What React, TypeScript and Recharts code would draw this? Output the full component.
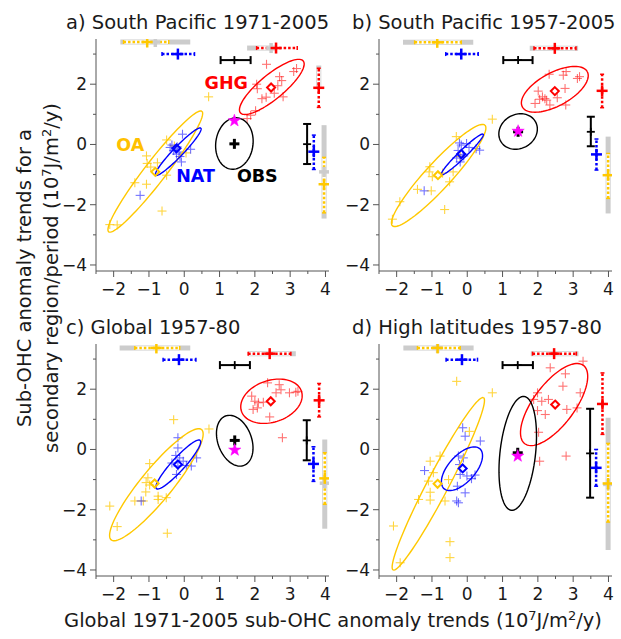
import React from 'react'
import { ComposedChart, Scatter, XAxis, YAxis } from 'recharts'

type Pt = [number, number]
// cx, cy, major half-axis (ux, uy) in data units, minor/major ratio in pixels
type Ell = [number, number, number, number, number]
// position, low, high, centre (null = no centre mark)
type Bar = [number, number, number, number | null]

const X_DOMAIN: [number, number] = [-2.5, 4.1]
const Y_DOMAIN: [number, number] = [-4.2, 3.5]
const X_TICKS = [-2.5, -2, -1.5, -1, -0.5, 0, 0.5, 1, 1.5, 2, 2.5, 3, 3.5, 4]
const Y_TICKS = [-4, -3, -2, -1, 0, 1, 2, 3]

const TITLES = ['a) South Pacific 1971-2005', 'b) South Pacific 1957-2005', 'c) Global 1957-80', 'd) High latitudes 1957-80']
const LABEL_TEXT = ['OA', 'NAT', 'GHG', 'OBS']
const LABEL_POS_A: Pt[] = [[-1.53, -0.02], [0.32, -1.04], [1.19, 2.03], [2.07, -1.04]]

// ---- a) South Pacific 1971-2005
const OA_A: Pt[] = [[-2.11, -2.66], [-1.9, -2.67], [-1.4, -1.27], [-1.07, -1.32], [-1.07, -0.38], [-1.05, -0.63], [-0.76, -0.61], [-0.5, 0.15], [-0.5, -1.02], [-0.63, -2.21], [0.69, 1.58], [-0.95, -0.75], [0.05, -0.28], [-0.28, -0.05]]
const NAT_A: Pt[] = [[-0.05, 0.34], [-0.35, -0.02], [-0.25, -0.15], [-0.2, -0.08], [-0.3, -0.2], [-0.15, -0.25], [-0.12, -0.4], [-0.08, -0.58], [0.18, -0.16], [-1.25, -1.69], [-0.22, -0.32], [-0.4, -0.1]]
const GHG_A: Pt[] = [[2.33, 2.66], [2.05, 2.0], [2.07, 1.85], [2.2, 1.52], [2.32, 1.57], [2.55, 1.7], [2.7, 2.25], [2.76, 2.12], [2.8, 1.58], [3.1, 2.42], [3.18, 2.52], [2.65, 1.95], [2.02, 1.12], [1.88, 0.97], [1.78, 0.86]]
const ELL_A: Ell[] = [[-0.82, -0.9, 1.32, 2.0, 0.14], [-0.17, -0.24, 0.64, 0.78, 0.15], [2.48, 1.91, 0.89, 0.86, 0.3], [1.42, 0.03, 0.1, 0.85, 0.72]]
const DIAM_A: Pt[] = [[-0.82, -0.91], [-0.22, -0.13], [2.46, 1.89]]
const OBS_A: Pt = [1.42, 0.02]
const STAR_A: Pt = [1.42, 0.79]
const HBAR_A: Bar[] = [[3.4, -1.72, -0.44, -1.05], [3.0, -0.63, 0.29, -0.18], [2.8, 1.03, 1.88, 1.42], [3.2, 2.05, 3.2, 2.6]]
const VBAR_A: Bar[] = [[3.96, -2.27, -0.43, -1.32], [3.67, -0.83, 0.31, -0.24], [3.48, -0.65, 0.68, 0.01], [3.81, 1.23, 2.53, 1.88]]
const GREYH_A: Bar[] = [[3.4, -1.81, 0.17, -0.82], [3.2, 1.78, 2.6, 2.46]]
const GREYV_A: Bar[] = [[3.96, -2.46, 0.64, -0.91], [3.81, 1.9, 2.62, null]]

// ---- b) South Pacific 1957-2005
const OA_B: Pt[] = [[-2.12, -2.48], [-1.91, -1.9], [-1.41, -1.49], [-1.02, -1.54], [-1.06, -0.74], [-1.08, -0.91], [-0.99, -1.07], [-0.5, -1.24], [-0.4, -0.91], [-0.31, 0.26], [-0.64, -2.16], [0.71, 0.84], [-0.7, -0.95], [-0.2, -0.4]]
const NAT_B: Pt[] = [[-1.22, -1.54], [-0.17, -0.02], [-0.02, 0.03], [-0.26, -0.2], [-0.12, -0.33], [-0.2, -0.58], [0.05, -0.1], [0.35, -0.19], [0.25, -0.14], [-0.1, -0.38], [-0.3, -0.45], [-0.22, 0.05]]
const GHG_B: Pt[] = [[2.32, 2.33], [2.72, 2.3], [2.8, 2.42], [3.12, 2.19], [3.18, 2.25], [2.01, 1.77], [2.13, 1.58], [2.05, 1.5], [2.25, 1.47], [1.92, 1.36], [2.34, 1.31], [2.77, 1.86], [2.79, 1.31], [2.55, 1.55], [2.2, 1.52]]
const ELL_B: Ell[] = [[-0.81, -1.03, 1.31, 1.67, 0.19], [-0.14, -0.33, 0.59, 0.67, 0.13], [2.48, 1.83, 0.92, 0.585, 0.45], [1.44, 0.43, 0.49, 0.33, 0.85]]
const DIAM_B: Pt[] = [[-0.83, -1.02], [-0.17, -0.32], [2.48, 1.77]]
const OBS_B: Pt = [1.44, 0.42]
const STAR_B: Pt = [1.44, 0.44]
const HBAR_B: Bar[] = [[3.39, -1.49, -0.17, -0.85], [3.0, -0.61, 0.31, -0.17], [2.8, 1.02, 1.85, 1.44], [3.19, 1.89, 3.08, 2.48]]
const VBAR_B: Bar[] = [[3.99, -1.79, -0.3, -1.02], [3.66, -0.85, 0.18, -0.33], [3.5, -0.06, 0.92, 0.42], [3.82, 1.22, 2.33, 1.78]]
const GREYH_B: Bar[] = [[3.39, -1.82, 0.17, null], [3.19, 1.77, 3.14, null]]
const GREYV_B: Bar[] = [[3.99, -2.29, 0.26, null]]

// ---- c) Global 1957-80
const OA_C: Pt[] = [[-0.3, 0.99], [0.7, 0.68], [-0.98, -0.47], [-1.03, -0.94], [-1.08, -1.1], [-0.98, -1.18], [-1.09, -1.41], [-1.4, -1.71], [-1.16, -1.71], [-0.74, -1.55], [-0.74, -1.66], [-0.51, -1.6], [-2.11, -1.88], [-1.9, -2.56], [-0.48, -2.78]]
const NAT_C: Pt[] = [[-0.18, 0.39], [-0.18, 0.05], [-0.24, -0.2], [-0.13, -0.28], [-0.03, -0.39], [0.06, -0.53], [0.35, -0.28], [0.2, -0.55], [-0.22, -0.83], [-1.22, -1.71], [-0.18, -0.55], [-0.35, -0.45]]
const GHG_C: Pt[] = [[2.36, 2.21], [2.69, 2.15], [2.74, 1.98], [3.16, 1.9], [3.22, 1.93], [1.91, 1.77], [2.0, 1.6], [2.24, 1.57], [2.07, 1.38], [1.95, 1.33], [2.42, 1.08], [2.78, 0.39], [2.6, 1.88], [2.98, 1.88], [2.1, 1.55]]
const ELL_C: Ell[] = [[-0.79, -1.17, 1.28, 1.83, 0.22], [-0.17, -0.5, 0.62, 0.8, 0.2], [2.47, 1.6, 0.85, 0.33, 0.66], [1.43, 0.29, 0.26, -0.82, 0.64]]
const DIAM_C: Pt[] = [[-0.84, -1.13], [-0.18, -0.5], [2.45, 1.6]]
const OBS_C: Pt = [1.43, 0.3]
const STAR_C: Pt = [1.43, -0.02]
const HBAR_C: Bar[] = [[3.37, -1.4, -0.13, -0.79], [2.98, -0.6, 0.33, -0.15], [2.8, 1.01, 1.86, 1.43], [3.18, 1.81, 3.02, 2.42]]
const VBAR_C: Bar[] = [[3.98, -1.82, -0.11, -0.96], [3.66, -1.06, 0.09, -0.48], [3.47, -0.36, 0.97, 0.3], [3.82, 1.08, 2.19, 1.63]]
const GREYH_C: Bar[] = [[3.37, -1.83, 0.17, null], [3.18, 1.81, 3.16, null]]
const GREYV_C: Bar[] = [[3.98, -2.63, 0.33, -1.12]]

// ---- d) High latitudes 1957-80
const OA_D: Pt[] = [[-0.3, 2.26], [0.71, 1.88], [0.06, 0.6], [-0.77, -0.22], [-1.05, -0.39], [-0.96, -0.77], [-1.1, -1.05], [-0.53, -1.0], [-1.05, -1.42], [-1.05, -1.68], [-1.38, -1.66], [-0.63, -1.71], [-2.09, -2.54], [-1.9, -3.76], [-0.49, -3.06], [-0.49, -3.59]]
const NAT_D: Pt[] = [[-0.13, 0.72], [-0.06, 0.44], [0.37, 0.28], [-1.21, -0.7], [-0.25, -0.22], [-0.11, -0.28], [-0.22, -0.5], [-0.2, -0.83], [-0.01, -0.88], [0.22, -0.85], [0.12, -0.97], [-0.28, -1.22], [-0.06, -1.44], [-0.3, -1.71], [-0.25, -1.77]]
const GHG_D: Pt[] = [[3.28, 2.93], [2.35, 2.71], [2.78, 2.51], [2.71, 2.1], [1.99, 1.88], [1.88, 1.66], [2.11, 1.6], [2.3, 1.66], [1.99, 1.29], [2.21, 1.16], [2.82, 1.33], [3.2, 1.88], [3.11, 1.38], [2.02, 0.57], [2.05, -0.39], [2.8, -0.22]]
const ELL_D: Ell[] = [[-0.82, -1.14, 1.28, 2.86, 0.11], [-0.15, -0.64, 0.51, 0.66, 0.5], [2.46, 1.49, 0.83, 1.3, 0.42], [1.43, -0.13, 0.18, 1.89, 0.31]]
const DIAM_D: Pt[] = [[-0.84, -1.14], [-0.13, -0.63], [2.49, 1.49]]
const OBS_D: Pt = [1.43, -0.11]
const STAR_D: Pt = [1.43, -0.22]
const HBAR_D: Bar[] = [[3.37, -1.41, -0.2, -0.84], [2.98, -0.6, 0.29, -0.15], [2.8, 1.0, 1.86, 1.43], [3.18, 1.85, 3.09, 2.46]]
const VBAR_D: Bar[] = [[3.99, -2.41, 0.2, -1.13], [3.65, -1.22, 0.0, -0.61], [3.48, -1.6, 1.35, -0.13], [3.83, 0.5, 2.54, 1.51]]
const GREYH_D: Bar[] = [[3.37, -1.81, 0.18, -0.84], [3.18, 1.8, 3.15, null]]
const GREYV_D: Bar[] = [[3.99, -3.34, 1.05, -1.16]]

const YEL = '#FFC800'
const BLUE = '#0000FF'
const RED = '#FF0000'
const BLACK = '#000000'
const MAG = '#FF00FF'
const GREY = '#CCCCCC'
const AXIS = '#555555'
const TXT = '#1a1a1a'
const FONT = '"DejaVu Sans", sans-serif'

// bar order: OA, NAT, OBS, GHG ; ellipse order: OA, NAT, GHG, OBS
const BAR_COLORS = [YEL, BLUE, BLACK, RED]
const ELL_COLORS = [YEL, BLUE, RED, BLACK]
const LABEL_COLORS = ['#FFC000', BLUE, RED, BLACK]

const CHART_W = 290
const CHART_H = 271
const MARGIN = { top: 9, right: 11, bottom: 0, left: 0 }
const Y_AXIS_W = 46
const X_AXIS_H = 30
const PX_X = (CHART_W - Y_AXIS_W - MARGIN.right) / (X_DOMAIN[1] - X_DOMAIN[0])
const PX_Y = (CHART_H - MARGIN.top - X_AXIS_H) / (Y_DOMAIN[1] - Y_DOMAIN[0])

const mk = (pts: Pt[]) => pts.map(([x, y]) => ({ x, y }))
const fmt = (v: number) => (v < 0 ? '\u2212' + Math.abs(v) : String(v))

function ellipse([cx, cy, ux, uy, r]: Ell) {
  const k = PX_X / PX_Y
  const vx = (r * uy) / k
  const vy = -r * ux * k
  const out: { x: number; y: number }[] = []
  for (let i = 0; i <= 90; i++) {
    const t = (i / 90) * Math.PI * 2
    out.push({ x: cx + ux * Math.cos(t) + vx * Math.sin(t), y: cy + uy * Math.cos(t) + vy * Math.sin(t) })
  }
  return out
}

const noShape = () => <g />

const plusShape = (color: string, half: number, w: number, opacity = 1) => (p: any) => (
  <g stroke={color} strokeWidth={w} opacity={opacity}>
    <line x1={p.cx - half} x2={p.cx + half} y1={p.cy} y2={p.cy} />
    <line x1={p.cx} x2={p.cx} y1={p.cy - half} y2={p.cy + half} />
  </g>
)

const capShape = (color: string, half: number, w: number, horizontal: boolean) => (p: any) =>
  horizontal ? (
    <line x1={p.cx} x2={p.cx} y1={p.cy - half} y2={p.cy + half} stroke={color} strokeWidth={w} />
  ) : (
    <line x1={p.cx - half} x2={p.cx + half} y1={p.cy} y2={p.cy} stroke={color} strokeWidth={w} />
  )

const diamondShape = (color: string) => (p: any) => {
  const h = 4
  return (
    <polygon
      points={`${p.cx},${p.cy - h} ${p.cx + h},${p.cy} ${p.cx},${p.cy + h} ${p.cx - h},${p.cy}`}
      fill="none"
      stroke={color}
      strokeWidth={2}
    />
  )
}

const starShape = (p: any) => {
  const pts = Array.from({ length: 10 }, (_, i) => {
    const a = -Math.PI / 2 + (i * Math.PI) / 5
    const rr = i % 2 ? 2.6 : 6.5
    return `${p.cx + rr * Math.cos(a)},${p.cy + rr * Math.sin(a)}`
  }).join(' ')
  return <polygon points={pts} fill={MAG} stroke={MAG} strokeWidth={0.5} />
}

const labelShape = (p: any) => (
  <text x={p.cx} y={p.cy} dy={6} textAnchor="middle" fontFamily={FONT} fontWeight="bold" fontSize={17.5} fill={p.payload.color}>
    {p.payload.text}
  </text>
)

const XTick = (props: any) => {
  const { x, y, payload } = props
  const v = payload.value
  const major = Number.isInteger(v)
  return (
    <g>
      <line x1={x} x2={x} y1={y} y2={y + (major ? 6 : 3)} stroke={AXIS} />
      {major && (
        <text x={x} y={y + 24} textAnchor="middle" fontFamily={FONT} fontSize={17} fill={TXT}>
          {fmt(v)}
        </text>
      )}
    </g>
  )
}

const YTick = (props: any) => {
  const { x, y, payload } = props
  const v = payload.value
  const major = v % 2 === 0
  return (
    <g>
      <line x1={x - (major ? 6 : 3)} x2={x} y1={y} y2={y} stroke={AXIS} />
      {major && (
        <text x={x - 9} y={y + 6} textAnchor="end" fontFamily={FONT} fontSize={17} fill={TXT}>
          {fmt(v)}
        </text>
      )}
    </g>
  )
}

const segLine = (key: string, pts: { x: number; y: number }[], stroke: string, width: number, dash?: string) => (
  <Scatter
    key={key}
    data={pts}
    line={{ stroke, strokeWidth: width, strokeDasharray: dash, strokeLinecap: 'butt' }}
    shape={noShape}
    isAnimationActive={false}
  />
)

const barPts = (b: Bar, horizontal: boolean) =>
  horizontal
    ? [{ x: b[1], y: b[0] }, { x: b[2], y: b[0] }]
    : [{ x: b[0], y: b[1] }, { x: b[0], y: b[2] }]
const midPt = (b: Bar, horizontal: boolean) => (horizontal ? [{ x: b[3] as number, y: b[0] }] : [{ x: b[0], y: b[3] as number }])

function errorBars(prefix: string, bars: Bar[], grey: Bar[], horizontal: boolean) {
  const items: React.ReactNode[] = []
  grey.forEach((b, i) => items.push(segLine(`${prefix}g${i}`, barPts(b, horizontal), GREY, 5)))
  bars.forEach((b, i) => {
    const color = BAR_COLORS[i]
    const pts = barPts(b, horizontal)
    if (color === BLACK) {
      items.push(segLine(`${prefix}b${i}`, pts, BLACK, 2))
      items.push(<Scatter key={`${prefix}c${i}`} data={pts} shape={capShape(BLACK, 4, 2, horizontal)} isAnimationActive={false} />)
    } else {
      items.push(segLine(`${prefix}w${i}`, pts, '#ffffff', 3.5))
      items.push(segLine(`${prefix}d${i}`, pts, color, 2.5, '2.5 2'))
      items.push(<Scatter key={`${prefix}c${i}`} data={pts} shape={capShape(color, 2, 1.5, horizontal)} isAnimationActive={false} />)
    }
  })
  grey.forEach((b, i) => {
    if (b[3] !== null)
      items.push(<Scatter key={`${prefix}gm${i}`} data={midPt(b, horizontal)} shape={plusShape(GREY, 5, 3.5)} isAnimationActive={false} />)
  })
  bars.forEach((b, i) => {
    const black = BAR_COLORS[i] === BLACK
    items.push(
      <Scatter
        key={`${prefix}m${i}`}
        data={midPt(b, horizontal)}
        shape={plusShape(BAR_COLORS[i], black ? 4 : 5.5, black ? 1.8 : 2.5)}
        isAnimationActive={false}
      />
    )
  })
  return items
}

interface PanelProps {
  left: number
  top: number
  oa: Pt[]
  nat: Pt[]
  ghg: Pt[]
  ells: Ell[]
  diamonds: Pt[]
  obs: Pt
  star: Pt
  hbars: Bar[]
  vbars: Bar[]
  greyH: Bar[]
  greyV: Bar[]
  labels?: Pt[]
}

function Panel(p: PanelProps) {
  const labelData = (p.labels || []).map(([x, y], i) => ({ x, y, text: LABEL_TEXT[i], color: LABEL_COLORS[i] }))
  return (
    <div style={{ position: 'absolute', left: p.left, top: p.top }}>
      <ComposedChart width={CHART_W} height={CHART_H} margin={MARGIN}>
        <XAxis
          type="number"
          dataKey="x"
          domain={X_DOMAIN}
          ticks={X_TICKS}
          interval={0}
          allowDataOverflow
          height={X_AXIS_H}
          tickSize={0}
          tickMargin={0}
          tickLine={false}
          axisLine={{ stroke: AXIS }}
          tick={<XTick />}
        />
        <YAxis
          type="number"
          dataKey="y"
          domain={Y_DOMAIN}
          ticks={Y_TICKS}
          interval={0}
          allowDataOverflow
          width={Y_AXIS_W}
          tickSize={0}
          tickMargin={0}
          tickLine={false}
          axisLine={{ stroke: AXIS }}
          tick={<YTick />}
        />
        {errorBars('h', p.hbars, p.greyH, true)}
        {errorBars('v', p.vbars, p.greyV, false)}
        <Scatter data={mk(p.oa)} shape={plusShape(YEL, 4.5, 1.1, 0.75)} isAnimationActive={false} />
        <Scatter data={mk(p.nat)} shape={plusShape(BLUE, 4.5, 1.1, 0.55)} isAnimationActive={false} />
        <Scatter data={mk(p.ghg)} shape={plusShape(RED, 4.5, 1.1, 0.55)} isAnimationActive={false} />
        {p.ells.map((e, i) => segLine(`e${i}`, ellipse(e), ELL_COLORS[i], 1.4))}
        {p.diamonds.map((d, i) => (
          <Scatter key={`dm${i}`} data={mk([d])} shape={diamondShape(ELL_COLORS[i])} isAnimationActive={false} />
        ))}
        <Scatter data={mk([p.obs])} shape={plusShape(BLACK, 5, 3)} isAnimationActive={false} />
        <Scatter data={mk([p.star])} shape={starShape} isAnimationActive={false} />
        {labelData.length > 0 && <Scatter data={labelData} shape={labelShape} isAnimationActive={false} />}
      </ComposedChart>
    </div>
  )
}

const PANELS: PanelProps[] = [
  { left: 50, top: 30, oa: OA_A, nat: NAT_A, ghg: GHG_A, ells: ELL_A, diamonds: DIAM_A, obs: OBS_A, star: STAR_A, hbars: HBAR_A, vbars: VBAR_A, greyH: GREYH_A, greyV: GREYV_A, labels: LABEL_POS_A },
  { left: 333, top: 30, oa: OA_B, nat: NAT_B, ghg: GHG_B, ells: ELL_B, diamonds: DIAM_B, obs: OBS_B, star: STAR_B, hbars: HBAR_B, vbars: VBAR_B, greyH: GREYH_B, greyV: GREYV_B },
  { left: 50, top: 335, oa: OA_C, nat: NAT_C, ghg: GHG_C, ells: ELL_C, diamonds: DIAM_C, obs: OBS_C, star: STAR_C, hbars: HBAR_C, vbars: VBAR_C, greyH: GREYH_C, greyV: GREYV_C },
  { left: 333, top: 335, oa: OA_D, nat: NAT_D, ghg: GHG_D, ells: ELL_D, diamonds: DIAM_D, obs: OBS_D, star: STAR_D, hbars: HBAR_D, vbars: VBAR_D, greyH: GREYH_D, greyV: GREYV_D },
]

const TITLE_POS: Pt[] = [[66, 29], [352, 29], [66, 334], [352, 334]]

export default function App() {
  return (
    <div style={{ position: 'absolute', left: 0, top: 0, width: 621, height: 639, background: '#fff', fontFamily: FONT }}>
      {PANELS.map((p, i) => (
        <Panel key={i} {...p} />
      ))}
      <svg width={621} height={639} style={{ position: 'absolute', left: 0, top: 0, pointerEvents: 'none' }}>
        {TITLES.map((t, i) => (
          <text key={t} x={TITLE_POS[i][0]} y={TITLE_POS[i][1]} fontFamily={FONT} fontSize={19.5} fill={TXT}>
            {t}
          </text>
        ))}
        <text transform="rotate(-90 24 278)" x={24} y={278} dy={7} textAnchor="middle" fontFamily={FONT} fontSize={19.5} fill={TXT}>
          Sub-OHC anomaly trends for a
        </text>
        <text transform="rotate(-90 51 278)" x={51} y={278} dy={7} textAnchor="middle" fontFamily={FONT} fontSize={19.5} fill={TXT}>
          secondary region/period (10<tspan fontSize={13} dy={-7}>7</tspan>
          <tspan dy={7}>J/m</tspan>
          <tspan fontSize={13} dy={-7}>2</tspan>
          <tspan dy={7}>/y)</tspan>
        </text>
        <text x={333} y={627} textAnchor="middle" fontFamily={FONT} fontSize={19.5} fill={TXT}>
          Global 1971-2005 sub-OHC anomaly trends (10<tspan fontSize={13} dy={-7}>7</tspan>
          <tspan dy={7}>J/m</tspan>
          <tspan fontSize={13} dy={-7}>2</tspan>
          <tspan dy={7}>/y)</tspan>
        </text>
      </svg>
    </div>
  )
}
